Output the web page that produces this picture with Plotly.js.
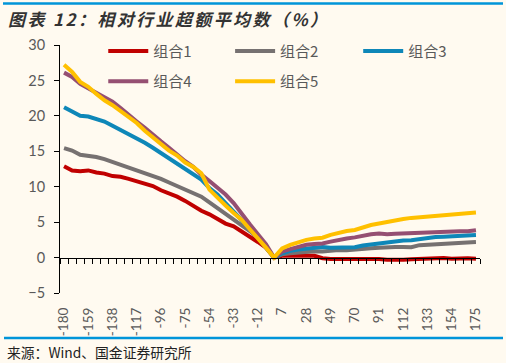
<!DOCTYPE html>
<html>
<head>
<meta charset="utf-8">
<script src="https://cdn.plot.ly/plotly-3.0.1.min.js"></script>
<style>
html,body{margin:0;padding:0;background:#FFFAF0;}
#chart{width:506px;height:363px;}
#chart .gtitle{letter-spacing:2.4px;}
</style>
</head>
<body>
<div id="chart"></div>
<script>
// Day offsets (categories), sampled every 7 days
const days = ["-180","-173","-166","-159","-152","-145","-138","-131","-124","-117","-110","-103","-96","-89","-82","-75","-68","-61","-54","-47","-40","-33","-26","-19","-12","-5","0",
  "7","14","21","28","35","42","49","56","63","70","77","84","91","98","105","112","119","126","133","140","147","154","161","168","175"];
const tickLabels = ["-180","-159","-138","-117","-96","-75","-54","-33","-12","7","28","49","70","91","112","133","154","175"];

const seriesNames = ["组合1","组合2","组合3","组合4","组合5"];
const group1 = [12.9,12.3,12.2,12.3,12.0,11.85,11.5,11.4,11.1,10.8,10.4,10.1,9.5,9.1,8.6,8.0,7.3,6.6,6.1,5.5,4.8,4.4,3.7,2.95,2.2,1.4,0,
  0.25,0.3,0.3,0.3,0.25,-0.1,-0.2,-0.2,-0.2,-0.15,-0.1,-0.15,-0.2,-0.3,-0.35,-0.3,-0.25,-0.2,-0.2,-0.1,-0.05,-0.15,-0.1,-0.1,-0.15];
const group2 = [15.45,15.1,14.5,14.4,14.2,13.9,13.5,13.1,12.8,12.4,12.0,11.6,11.1,10.6,10.1,9.5,9.0,8.6,7.8,7.0,6.3,5.5,4.7,3.75,2.8,1.6,0,
  0.45,0.6,0.7,0.85,0.9,0.85,1.0,1.05,1.05,1.1,1.2,1.3,1.4,1.5,1.5,1.5,1.45,1.75,1.8,1.85,1.95,2.0,2.05,2.1,2.2];
const group3 = [21.2,20.6,20.0,19.9,19.5,19.2,18.6,18.0,17.5,16.9,16.2,15.5,14.75,14.05,13.4,12.6,11.9,11.0,9.8,8.9,7.7,6.55,5.4,4.1,2.8,1.5,0,
  0.6,0.95,1.15,1.3,1.4,1.5,1.4,1.4,1.4,1.45,1.7,1.85,1.95,2.1,2.25,2.4,2.45,2.6,2.8,2.9,2.95,3.0,3.05,3.1,3.2];
const group4 = [26.1,25.5,24.5,23.9,23.2,22.6,22.0,21.1,20.1,19.2,18.3,17.3,16.4,15.5,14.5,13.6,12.8,11.7,10.8,9.8,8.9,7.7,6.1,4.7,3.3,1.9,0,
  0.85,1.2,1.5,1.8,1.9,2.0,2.25,2.5,2.7,2.85,3.1,3.3,3.4,3.3,3.35,3.4,3.45,3.5,3.55,3.6,3.7,3.7,3.7,3.7,3.85];
const group5 = [27.2,26.2,24.8,24.1,23.1,22.2,21.5,20.7,19.8,19.0,17.9,17.0,16.1,15.1,14.4,13.4,12.8,11.9,9.6,8.4,7.35,6.3,5.3,4.0,2.8,1.4,0,
  1.3,1.8,2.15,2.5,2.7,2.8,3.2,3.5,3.75,3.9,4.3,4.6,4.8,5.05,5.25,5.45,5.6,5.7,5.8,5.9,6.0,6.05,6.1,6.3,6.35];

const colors = ["#C00000","#767171","#0E87B8","#954F72","#FFC000"];
const allSeries = [group1, group2, group3, group4, group5];
const legendIds = ['legend','legend2','legend3','legend4','legend5'];

const traces = allSeries.map((vals, i) => ({
  type: 'scatter', mode: 'lines', name: seriesNames[i],
  x: days, y: vals, xaxis: 'x', yaxis: 'y',
  line: {color: colors[i], width: 4},
  legend: legendIds[i],
  hoverinfo: 'skip'
}));
// carrier for the zero-line axis (no visible marks)
traces.push({type:'scatter', mode:'lines', x:[days[0]], y:[null], xaxis:'x2', yaxis:'y', showlegend:false, hoverinfo:'skip'});

const tickFont = {family: 'Lato, "Noto Sans CJK SC", sans-serif', size: 14.5, color: '#595959'};
const legendFont = {family: '"Noto Sans CJK SC", sans-serif', size: 15, color: '#595959'};

function legendAt(x, y) {
  return {orientation: 'h', x: x, y: y, xanchor: 'left', yanchor: 'middle',
    bgcolor: 'rgba(0,0,0,0)', font: legendFont, itemwidth: 40};
}

const layout = {
  width: 506, height: 363,
  margin: {l: 60, r: 26, t: 44.5, b: 70},
  paper_bgcolor: '#FFFAF0', plot_bgcolor: '#FFFAF0',
  showlegend: true,
  title: {
    text: '图表 12：相对行业超额平均数（%）',
    x: 8/506, xanchor: 'left', xref: 'container', y: 0.946, yanchor: 'middle', yref: 'container',
    font: {family: '"Noto Sans CJK SC", sans-serif', size: 17, color: '#333333', style: 'italic', weight: 'bold'}
  },
  xaxis: {
    type: 'category', categoryorder: 'array', categoryarray: days,
    range: [-0.5, days.length - 0.5],
    tickmode: 'array', tickvals: tickLabels, ticktext: tickLabels,
    tickangle: -90, ticks: '', showline: false, showgrid: false, zeroline: false,
    ticklabelstandoff: 11,
    tickfont: {family: 'Lato, sans-serif', size: 13.5, color: '#595959'}
  },
  xaxis2: {
    type: 'category', categoryorder: 'array', categoryarray: days,
    overlaying: 'x', anchor: 'free', position: 5/35,
    range: [-0.5, days.length - 0.5],
    tickmode: 'linear', tick0: 0, dtick: 1, tickson: 'boundaries',
    ticks: 'outside', ticklen: 5, tickwidth: 1, tickcolor: '#000000',
    showticklabels: false, showline: true, linecolor: '#000000', linewidth: 1,
    showgrid: false, zeroline: false
  },
  yaxis: {
    range: [-5, 30], tickmode: 'linear', tick0: -5, dtick: 5,
    ticks: 'outside', ticklen: 5, tickwidth: 1, tickcolor: '#000000',
    showline: true, linecolor: '#000000', linewidth: 1,
    showgrid: false, zeroline: false,
    ticklabelstandoff: 6,
    tickfont: tickFont
  },
  legend: legendAt(0.103, 0.975),
  legend2: legendAt(0.405, 0.975),
  legend3: legendAt(0.710, 0.975),
  legend4: legendAt(0.103, 0.853),
  legend5: legendAt(0.405, 0.853),
  shapes: [
    {type: 'line', xref: 'paper', yref: 'paper', x0: -57/420, x1: 443/420, y0: 290/248.5, y1: 290/248.5,
     line: {color: '#0095D9', width: 2.5}},
    {type: 'line', xref: 'paper', yref: 'paper', x0: -56/420, x1: 443/420, y0: -45/248.5, y1: -45/248.5,
     line: {color: '#0095D9', width: 2.5}}
  ],
  annotations: [
    {text: '来源：Wind、国金证券研究所', xref: 'paper', yref: 'paper', x: -55/420, y: -59.5/248.5,
     xanchor: 'left', yanchor: 'middle', showarrow: false,
     font: {family: '"Noto Sans CJK SC", sans-serif', size: 13.8, color: '#222222'}}
  ]
};

Plotly.newPlot('chart', traces, layout, {displayModeBar: false, staticPlot: true});
</script>
</body>
</html>
